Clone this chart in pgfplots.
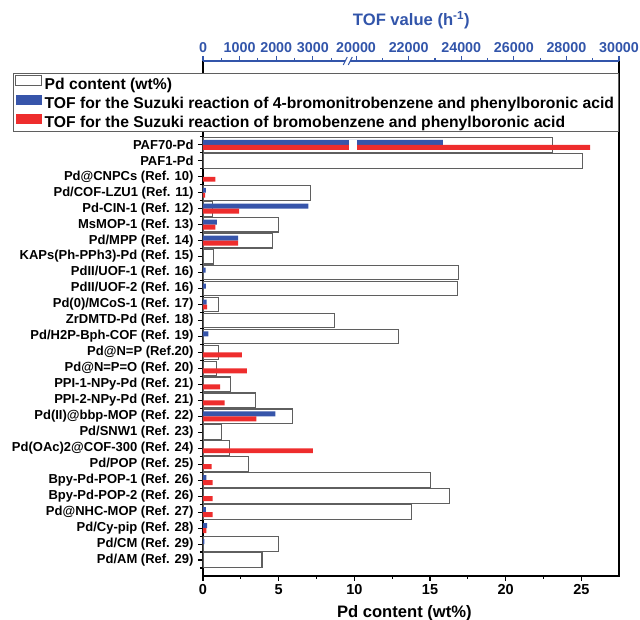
\documentclass[border=0pt]{standalone}
\usepackage{fontspec}
\setmainfont{Liberation Sans}
\usepackage{pgfplots}
\usepackage{pgfplotstable}
\pgfplotsset{compat=1.18}
\definecolor{tofblue}{RGB}{55,85,170}
\definecolor{tofred}{RGB}{238,45,45}
\definecolor{axblue}{RGB}{50,85,170}
\definecolor{bargray}{RGB}{95,95,95}

% Pd content (wt%), idx 0 = bottom row (Pd/AM) ... 26 = top row (PAF70-Pd)
\pgfplotstableread{
idx wt
26 23.1
25 25.1
23 7.1
22 0.6
21 5.0
20 4.6
19 0.7
18 16.85
17 16.8
16 1.0
15 8.7
14 12.9
13 1.0
12 0.9
11 1.8
10 3.45
9 5.9
8 1.2
7 1.75
6 3.0
5 15.05
4 16.3
3 13.75
1 5.0
0 3.9
}\pdtable

% TOF (h^-1), 4-bromonitrobenzene + phenylboronic acid
\pgfplotstableread{
idx tof
26 23300
23 80
22 2880
21 380
20 960
18 70
17 80
16 100
14 145
9 1980
5 90
3 80
2 110
1 35
}\bluetable

% TOF (h^-1), bromobenzene + phenylboronic acid
\pgfplotstableread{
idx tof
26 28900
24 335
23 55
22 990
21 335
20 960
16 115
13 1060
12 1200
11 465
10 590
9 1455
7 3000
6 235
5 260
4 260
3 260
2 90
}\redtable

\begin{document}
\begin{tikzpicture}
\begin{axis}[
  scale only axis, width=416pt, height=515pt,
  xmin=0, xmax=27.483, ymin=-1, ymax=31.25,
  axis line style={line width=1.1pt, black},
  xtick pos=left, ytick pos=left,
  xtick={0,5,...,25},
  minor xtick={2.5,7.5,12.5,17.5,22.5},
  ytick={0,...,26},
  minor ytick={-0.5,0.5,...,26.5},
  yticklabels={
    {Pd/AM (Ref. 29)},{Pd/CM (Ref. 29)},{Pd/Cy-pip (Ref. 28)},{Pd@NHC-MOP (Ref. 27)},
    {Bpy-Pd-POP-2 (Ref. 26)},{Bpy-Pd-POP-1 (Ref. 26)},{Pd/POP (Ref. 25)},
    {Pd(OAc)2@COF-300 (Ref. 24)},{Pd/SNW1 (Ref. 23)},{Pd(II)@bbp-MOP (Ref. 22)},
    {PPI-2-NPy-Pd (Ref. 21)},{PPI-1-NPy-Pd (Ref. 21)},{Pd@N=P=O (Ref. 20)},
    {Pd@N=P (Ref.20)},{Pd/H2P-Bph-COF (Ref. 19)},{ZrDMTD-Pd (Ref. 18)},
    {Pd(0)/MCoS-1 (Ref. 17)},{PdII/UOF-2 (Ref. 16)},{PdII/UOF-1 (Ref. 16)},
    {KAPs(Ph-PPh3)-Pd (Ref. 15)},{Pd/MPP (Ref. 14)},{MsMOP-1 (Ref. 13)},
    {Pd-CIN-1 (Ref. 12)},{Pd/COF-LZU1 (Ref. 11)},{Pd@CNPCs (Ref. 10)},
    {PAF1-Pd},{PAF70-Pd}},
  tick align=outside,
  major tick length=5pt, minor tick length=3pt,
  tick style={line width=1.1pt, black},
  /pgf/number format/assume math mode=true,
  xticklabel style={font=\fontsize{14.5}{17}\selectfont\bfseries},
  yticklabel style={font=\fontsize{13.0}{15}\selectfont\bfseries, xshift=-1pt},
  xlabel={Pd content (wt\%)},
  xlabel style={font=\fontsize{16.6}{19}\selectfont\bfseries, at={(axis description cs:0.484,-0.0718)}, anchor=center},
  legend style={at={(axis description cs:-0.4575,0.9761)}, anchor=north west,
    draw=bargray, line width=1pt, fill=white,
    font=\fontsize{15.7}{18}\selectfont\bfseries,
    inner xsep=2pt, inner ysep=0.5pt, row sep=0pt,
    nodes={text height=13pt, text depth=2pt, inner ysep=2pt, inner xsep=2.5pt}},
  legend cell align=left,
]
\coordinate (O) at (rel axis cs:0,0);
\addplot[xbar, bar width=0.92, bar shift=0, draw=bargray, line width=1.1pt, fill=white,
  legend image code/.code={\draw[draw=bargray, fill=white, line width=1pt] (0pt,-2pt) rectangle (26pt,8pt);}]
  table[x=wt, y=idx] {\pdtable};
\addlegendentry{Pd content (wt\%)}
\addplot[xbar, bar width=0.31, bar shift=0.156, draw=none, fill=tofblue,
  legend image code/.code={\fill[tofblue] (0pt,-2pt) rectangle (26pt,8pt);}]
  table[x expr={(\thisrow{tof}<10000) ? (\thisrow{tof}*0.002419) : (10.113+(\thisrow{tof}-20000)*0.001737)}, y=idx] {\bluetable};
\addlegendentry{TOF for the Suzuki reaction of 4-bromonitrobenzene and phenylboronic acid}
\addplot[xbar, bar width=0.31, bar shift=-0.156, draw=none, fill=tofred,
  legend image code/.code={\fill[tofred] (0pt,-2pt) rectangle (26pt,8pt);}]
  table[x expr={(\thisrow{tof}<10000) ? (\thisrow{tof}*0.002419) : (10.113+(\thisrow{tof}-20000)*0.001737)}, y=idx] {\redtable};
\addlegendentry{TOF for the Suzuki reaction of bromobenzene and phenylboronic acid}
% axis break gap in the TOF bars
\fill[white] (axis cs:9.67,25.67) rectangle (axis cs:10.15,26.33);
\end{axis}

\begin{axis}[
  scale only axis, width=416pt, height=515pt,
  xmin=0, xmax=27.483, ymin=0, ymax=1,
  axis x line*=top, hide y axis, clip=false,
  axis line style={-, line width=1.1pt, axblue},
  xtick={0,2.419,4.838,7.257,10.113,13.587,17.061,20.535,24.009,27.483},
  minor xtick={1.2095,3.6285,6.0475,8.4665,11.85,15.324,18.798,22.272,25.746},
  xticklabels={0,1000,2000,3000,20000,22000,24000,26000,28000,30000},
  tick align=outside,
  major tick length=5pt, minor tick length=3pt,
  tick style={line width=1.1pt, axblue},
  xticklabel style={text=axblue, font=\fontsize{14.3}{17}\selectfont\bfseries},
  xlabel={TOF value (h\textsuperscript{-1})},
  xlabel style={text=axblue, font=\fontsize{16.6}{19}\selectfont\bfseries, at={(axis description cs:0.5007,1.0796)}, anchor=center},
]
\fill[white] ([xshift=-3pt,yshift=-1.5pt]axis cs:9.6,1) rectangle ([xshift=2pt,yshift=1.5pt]axis cs:9.6,1);
\draw[axblue, line width=1pt] ([xshift=-5pt,yshift=-4pt]axis cs:9.6,1) -- ([xshift=-1pt,yshift=4pt]axis cs:9.6,1);
\draw[axblue, line width=1pt] ([xshift=0pt,yshift=-4pt]axis cs:9.6,1) -- ([xshift=4pt,yshift=4pt]axis cs:9.6,1);
\end{axis}
\pgfresetboundingbox
\path[use as bounding box] ([shift={(-203pt,-44pt)}]O) rectangle ++(640pt,620pt);
\end{tikzpicture}
\end{document}
